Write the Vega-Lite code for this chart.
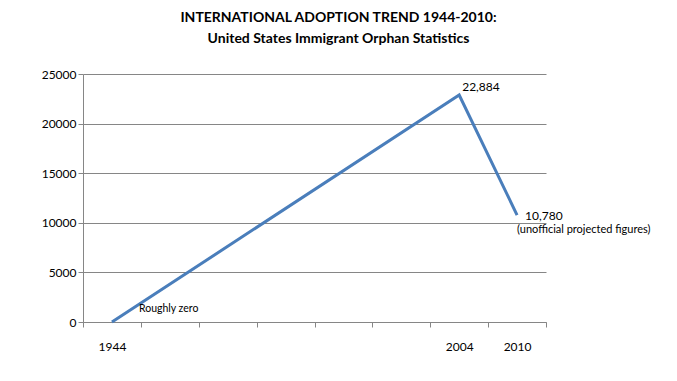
{
  "$schema": "https://vega.github.io/schema/vega-lite/v6.json",
  "width": 463,
  "height": 248,
  "autosize": {"type": "none"},
  "padding": {"left": 83, "top": 74, "right": 131, "bottom": 59},
  "background": "white",
  "title": {
    "text": ["INTERNATIONAL ADOPTION TREND 1944-2010:", "United States Immigrant Orphan Statistics"],
    "font": "Lato",
    "fontSize": 14,
    "fontWeight": "bold",
    "color": "#000000",
    "anchor": "middle",
    "dx": 24,
    "lineHeight": 21,
    "offset": 22
  },
  "config": {"view": {"stroke": null}, "font": "Lato"},
  "data": {"values": [
      {"year": "1944", "count": 0, "label": "Roughly zero", "note": ""},
      {"year": "2004", "count": 22884, "label": "22,884", "note": ""},
      {"year": "2010", "count": 10780, "label": "10,780", "note": "(unofficial projected figures)"}
  ]},
  "layer": [
    {
      "mark": {"type": "line", "color": "#4A7EBB", "strokeWidth": 3},
      "encoding": {
        "x": {
          "field": "year",
          "type": "ordinal",
          "scale": {"type": "band", "domain": ["1944", "p1", "p2", "p3", "p4", "p5", "2004", "2010"], "paddingInner": 0, "paddingOuter": 0},
          "axis": {
            "title": null,
            "labelAngle": 0,
            "labelExpr": "isString(datum.value) && indexof(datum.value, 'p') != 0 ? datum.value : ''",
            "tickBand": "extent",
            "domainColor": "#868686",
            "tickColor": "#868686",
            "tickSize": 5,
            "labelPadding": 14,
            "labelFontSize": 12,
            "labelColor": "#000000"
          }
        },
        "y": {
          "field": "count",
          "type": "quantitative",
          "scale": {"domain": [0, 25000], "nice": false},
          "axis": {
            "title": null,
            "values": [0, 5000, 10000, 15000, 20000, 25000],
            "format": "d",
            "domainColor": "#868686",
            "tickColor": "#868686",
            "gridColor": "#868686",
            "gridOpacity": 1,
            "tickSize": 5,
            "labelPadding": 2,
            "labelFontSize": 12,
            "labelColor": "#000000"
          }
        }
      }
    },
    {
      "transform": [{"filter": "datum.year == '1944'"}],
      "mark": {"type": "text", "align": "left", "baseline": "alphabetic", "dx": 27, "dy": -10, "fontSize": 10.5, "color": "#000000"},
      "encoding": {
        "x": {"field": "year", "type": "ordinal"},
        "y": {"field": "count", "type": "quantitative", "scale": {"domain": [0, 25000], "nice": false}},
        "text": {"field": "label"}
      }
    },
    {
      "transform": [{"filter": "datum.year == '2004'"}],
      "mark": {"type": "text", "align": "left", "baseline": "alphabetic", "dx": 3, "dy": -4, "fontSize": 12, "color": "#000000"},
      "encoding": {
        "x": {"field": "year", "type": "ordinal"},
        "y": {"field": "count", "type": "quantitative", "scale": {"domain": [0, 25000], "nice": false}},
        "text": {"field": "label"}
      }
    },
    {
      "transform": [{"filter": "datum.year == '2010'"}],
      "mark": {"type": "text", "align": "left", "baseline": "alphabetic", "dx": 8, "dy": 5, "fontSize": 12, "color": "#000000"},
      "encoding": {
        "x": {"field": "year", "type": "ordinal"},
        "y": {"field": "count", "type": "quantitative", "scale": {"domain": [0, 25000], "nice": false}},
        "text": {"field": "label"}
      }
    },
    {
      "transform": [{"filter": "datum.year == '2010'"}],
      "mark": {"type": "text", "align": "left", "baseline": "alphabetic", "dx": 0, "dy": 18, "fontSize": 11, "color": "#000000"},
      "encoding": {
        "x": {"field": "year", "type": "ordinal"},
        "y": {"field": "count", "type": "quantitative", "scale": {"domain": [0, 25000], "nice": false}},
        "text": {"field": "note"}
      }
    }
  ]
}
